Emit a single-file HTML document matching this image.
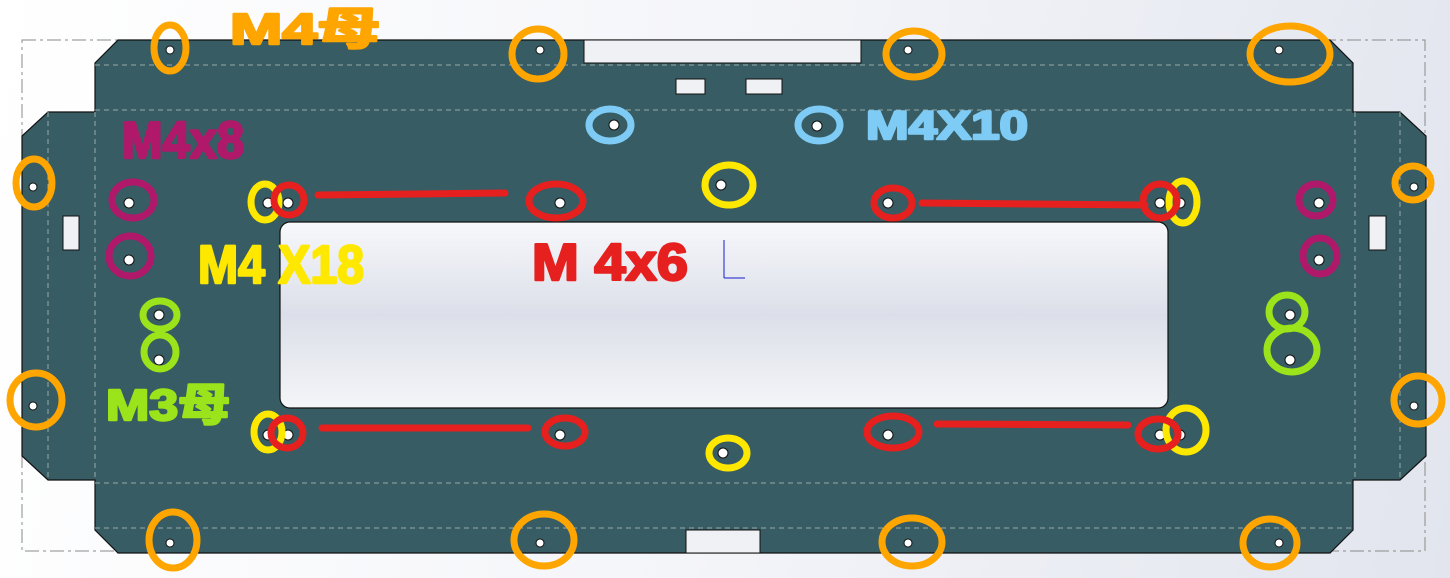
<!DOCTYPE html>
<html><head><meta charset="utf-8"><style>
html,body{margin:0;padding:0;width:1450px;height:578px;overflow:hidden}
body{background:linear-gradient(100deg,#ffffff 0%,#f4f5f9 50%,#e2e5ee 100%)}
</style></head><body>
<svg width="1450" height="578" viewBox="0 0 1450 578" xmlns="http://www.w3.org/2000/svg" style="position:absolute;left:0;top:0">
<defs>
<linearGradient id="win" x1="0" y1="0" x2="0" y2="1"><stop offset="0" stop-color="#f7f8fb"/><stop offset="0.5" stop-color="#dcdfe9"/><stop offset="1" stop-color="#f4f5f8"/></linearGradient>
</defs>
<rect x="22" y="40" width="1403" height="511" fill="none" stroke="#8a8a8a" stroke-width="1" stroke-dasharray="14,4,3,4"/>
<path d="M118,40 H1330 L1353,63 V112 H1400 L1426,136 V456 L1400,480 H1353 V530 L1330,553 H118 L95,530 V480 H48 L22,456 V136 L48,112 H95 V63 Z" fill="#375c63" stroke="#111" stroke-width="1.2"/>
<g stroke="#9aa" stroke-width="1" stroke-dasharray="5,4" fill="none">
<line x1="95" y1="65" x2="1353" y2="65"/><line x1="95" y1="110" x2="1353" y2="110"/>
<line x1="95" y1="483" x2="1353" y2="483"/><line x1="95" y1="528" x2="1353" y2="528"/>
<line x1="48" y1="112" x2="48" y2="480"/><line x1="95" y1="112" x2="95" y2="480"/>
<line x1="1355" y1="112" x2="1355" y2="480"/><line x1="1400" y1="112" x2="1400" y2="480"/>
</g>
<g fill="#f0f1f5" stroke="#111" stroke-width="1">
<rect x="584" y="40" width="277" height="23"/>
<rect x="686" y="530" width="74" height="23"/>
<rect x="676" y="79" width="29" height="15"/>
<rect x="746" y="79" width="36" height="15"/>
<rect x="63" y="216" width="16" height="34"/>
<rect x="1369" y="216" width="17" height="34"/>
</g>
<rect x="280" y="222" width="888" height="186" rx="10" fill="url(#win)" stroke="#111" stroke-width="1.2"/>
<g stroke="#1a1ad0" stroke-width="1"><line x1="724" y1="278" x2="724" y2="240"/><line x1="724" y1="278" x2="745" y2="278"/></g>
<g fill="#fff" stroke="#111" stroke-width="1">
<circle cx="170" cy="50" r="4"/><circle cx="540" cy="50" r="4"/><circle cx="908" cy="50" r="4"/><circle cx="1279" cy="50" r="4"/>
<circle cx="614" cy="125" r="5"/><circle cx="817" cy="126" r="5"/>
<circle cx="33" cy="187" r="4"/><circle cx="1414" cy="187" r="4"/>
<circle cx="129" cy="203" r="5"/><circle cx="129" cy="260" r="5"/><circle cx="1319" cy="203" r="5"/><circle cx="1319" cy="260" r="5"/>
<circle cx="268" cy="203" r="5"/><circle cx="288" cy="203" r="5"/><circle cx="560" cy="203" r="5"/><circle cx="721" cy="185" r="5"/><circle cx="888" cy="203" r="5"/><circle cx="1160" cy="203" r="5"/><circle cx="1180" cy="203" r="5"/>
<circle cx="159" cy="315" r="5"/><circle cx="159" cy="360" r="5"/><circle cx="1290" cy="315" r="5"/><circle cx="1290" cy="360" r="5"/>
<circle cx="33" cy="406" r="4"/><circle cx="1414" cy="406" r="4"/>
<circle cx="268" cy="435" r="5"/><circle cx="288" cy="435" r="5"/><circle cx="560" cy="435" r="5"/><circle cx="723" cy="453" r="5"/><circle cx="888" cy="435" r="5"/><circle cx="1160" cy="435" r="5"/><circle cx="1180" cy="435" r="5"/>
<circle cx="170" cy="543" r="4"/><circle cx="540" cy="543" r="4"/><circle cx="908" cy="543" r="4"/><circle cx="1279" cy="543" r="4"/>
</g>
<g fill="none" stroke="#ffa500" stroke-width="7" stroke-linecap="round">
<ellipse cx="170" cy="48" rx="16" ry="23"/><ellipse cx="538" cy="54" rx="26" ry="25"/><ellipse cx="914" cy="54" rx="28" ry="23"/><ellipse cx="1290" cy="54" rx="40" ry="28"/>
<ellipse cx="34" cy="183" rx="18" ry="24"/><ellipse cx="1413" cy="183" rx="18" ry="17"/>
<ellipse cx="36" cy="400" rx="26" ry="27"/><ellipse cx="1418" cy="400" rx="24" ry="24"/>
<ellipse cx="173" cy="540" rx="24" ry="28"/><ellipse cx="544" cy="540" rx="30" ry="26"/><ellipse cx="912" cy="542" rx="30" ry="24"/><ellipse cx="1270" cy="543" rx="27" ry="24"/>
</g>
<g fill="none" stroke="#7ecbf5" stroke-width="7"><ellipse cx="610" cy="125" rx="21" ry="16"/><ellipse cx="819" cy="125" rx="21" ry="16"/></g>
<g fill="none" stroke="#b0186a" stroke-width="7"><ellipse cx="133" cy="200" rx="21" ry="18"/><ellipse cx="130" cy="256" rx="21" ry="20"/><ellipse cx="1316" cy="200" rx="17" ry="16"/><ellipse cx="1320" cy="256" rx="17" ry="18"/></g>
<g fill="none" stroke="#9be31a" stroke-width="7"><ellipse cx="160" cy="315" rx="17" ry="14"/><ellipse cx="160" cy="352" rx="16" ry="17"/><ellipse cx="1287" cy="312" rx="18" ry="17"/><ellipse cx="1292" cy="350" rx="25" ry="22"/></g>
<g fill="none" stroke="#ffe800" stroke-width="7"><ellipse cx="265" cy="202" rx="14" ry="18"/><ellipse cx="729" cy="185" rx="24" ry="20"/><ellipse cx="1183" cy="202" rx="14" ry="21"/><ellipse cx="268" cy="432" rx="14" ry="18"/><ellipse cx="728" cy="453" rx="19" ry="15"/><ellipse cx="1186" cy="430" rx="20" ry="22"/></g>
<g fill="none" stroke="#e5201e" stroke-width="7" stroke-linecap="round">
<ellipse cx="289" cy="200" rx="15" ry="15"/><line x1="318" y1="195" x2="505" y2="193"/><ellipse cx="556" cy="201" rx="27" ry="17"/>
<ellipse cx="893" cy="203" rx="19" ry="15"/><line x1="922" y1="203" x2="1145" y2="205"/><ellipse cx="1160" cy="201" rx="17" ry="17"/>
<ellipse cx="287" cy="433" rx="16" ry="15"/><line x1="322" y1="428" x2="528" y2="428"/><ellipse cx="565" cy="432" rx="20" ry="14"/>
<ellipse cx="893" cy="432" rx="26" ry="16"/><line x1="937" y1="424" x2="1128" y2="425"/><ellipse cx="1158" cy="434" rx="20" ry="15"/>
</g>
<g font-family="Liberation Sans, 'Noto Sans CJK SC', sans-serif" font-weight="bold" stroke-width="2.5" stroke-linejoin="round">
<text x="230" y="44" font-size="44" fill="#ffa500" stroke="#ffa500" textLength="150" lengthAdjust="spacingAndGlyphs">M4母</text>
<text x="866" y="139" font-size="40" fill="#7ecbf5" stroke="#7ecbf5" textLength="162" lengthAdjust="spacingAndGlyphs">M4X10</text>
<text x="122" y="158" font-size="52" fill="#b0186a" stroke="#b0186a" textLength="122" lengthAdjust="spacingAndGlyphs">M4x8</text>
<text x="198" y="283" font-size="54" fill="#ffe800" stroke="#ffe800" textLength="166" lengthAdjust="spacingAndGlyphs">M4 X18</text>
<text x="532" y="280" font-size="52" fill="#e5201e" stroke="#e5201e" textLength="156" lengthAdjust="spacingAndGlyphs">M 4x6</text>
<text x="106" y="420" font-size="44" fill="#9be31a" stroke="#9be31a" textLength="124" lengthAdjust="spacingAndGlyphs">M3母</text>
</g>
</svg>
</body></html>
